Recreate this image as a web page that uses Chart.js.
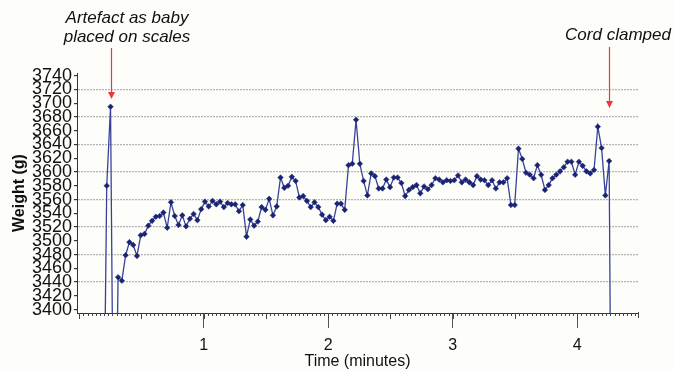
<!DOCTYPE html>
<html>
<head>
<meta charset="utf-8">
<script src="https://cdn.jsdelivr.net/npm/chart.js"></script>
<style>
  html, body { margin: 0; padding: 0; background: #fdfdfa; }
  #wrap { width: 674px; height: 371px; position: relative; }
</style>
</head>
<body>
<div id="wrap"><canvas id="myChart"></canvas></div>
<script>
// weight readings (g), one sample every ~1.8 s; the first, fourth and last fall off the bottom of the axis
const weights = [
  3100, 3580, 3695, 3050, 3447, 3442, 3479, 3498, 3494, 3478,
  3508, 3510, 3522, 3529, 3535, 3536, 3541, 3519, 3556, 3536,
  3523, 3537, 3521, 3532, 3539, 3530, 3546, 3557, 3550, 3558,
  3553, 3557, 3549, 3555, 3553, 3553, 3543, 3552, 3506, 3531,
  3522, 3528, 3549, 3545, 3561, 3537, 3550, 3592, 3577, 3580,
  3593, 3587, 3563, 3565, 3558, 3549, 3556, 3549, 3538, 3530,
  3535, 3529, 3554, 3554, 3545, 3610, 3612, 3676, 3612, 3587,
  3566, 3598, 3594, 3576, 3576, 3589, 3578, 3592, 3592, 3584,
  3565, 3574, 3578, 3581, 3569, 3579, 3575, 3581, 3591, 3589,
  3585, 3588, 3587, 3588, 3595, 3585, 3589, 3585, 3581, 3594,
  3589, 3588, 3581, 3588, 3576, 3585, 3585, 3591, 3552, 3552,
  3634, 3619, 3599, 3596, 3591, 3610, 3596, 3574, 3581, 3591,
  3596, 3601, 3607, 3615, 3615, 3596, 3615, 3609, 3601, 3598,
  3603, 3666, 3635, 3566, 3616, 2800
];
const startMin = 0.1906;   // time of first sample (minutes)
const stepMin = 0.03034;   // sampling interval (minutes)

const xTicks = [1, 2, 3, 4];
const yTicks = [3400, 3420, 3440, 3460, 3480, 3500, 3520, 3540, 3560, 3580,
                3600, 3620, 3640, 3660, 3680, 3700, 3720, 3740];
const minorStep = 1 / 30;

const notes = [
  { lines: ['Artefact as baby', 'placed on scales'], index: 2, textX: 127, textY: 18, tail: 48, tip: 99 },
  { lines: ['Cord clamped'], index: 134, textX: 618, textY: 35, tail: 47, tip: 108 }
];

const points = weights.map((w, i) => ({ x: startMin + i * stepMin, y: w }));

// small ticks on the time axis + the red arrows and notes
const extras = {
  id: 'extras',
  afterDraw(chart) {
    const ctx = chart.ctx;
    const xs = chart.scales.x;
    const bottom = chart.chartArea.bottom;
    ctx.save();
    ctx.strokeStyle = '#444';
    ctx.lineWidth = 1;
    ctx.beginPath();
    for (let k = 0; k * minorStep <= xs.max; k++) {
      const t = k * minorStep;
      const px = Math.round(xs.getPixelForValue(t)) + 0.5;
      const half = Math.abs((t * 2) - Math.round(t * 2)) < 1e-6;
      const len = half ? 6 : 3;
      ctx.moveTo(px, bottom);
      ctx.lineTo(px, bottom + len);
    }
    ctx.moveTo(chart.chartArea.right + 0.5, bottom - 1);
    ctx.lineTo(chart.chartArea.right + 0.5, bottom + 5);
    ctx.stroke();

    ctx.font = 'italic 17px "Liberation Sans", Arial, sans-serif';
    ctx.fillStyle = '#111';
    ctx.textAlign = 'center';
    ctx.textBaseline = 'middle';
    notes.forEach(n => {
      n.lines.forEach((s, i) => ctx.fillText(s, n.textX, n.textY + i * 19));
      const ax = Math.round(xs.getPixelForValue(points[n.index].x)) + 0.5;
      ctx.strokeStyle = '#f0383a';
      ctx.fillStyle = '#f0383a';
      ctx.lineWidth = 1.2;
      ctx.beginPath();
      ctx.moveTo(ax, n.tail);
      ctx.lineTo(ax, n.tip - 5);
      ctx.stroke();
      ctx.beginPath();
      ctx.moveTo(ax - 3.5, n.tip - 7);
      ctx.lineTo(ax + 3.5, n.tip - 7);
      ctx.lineTo(ax, n.tip);
      ctx.closePath();
      ctx.fill();
      ctx.fillStyle = '#111';
    });
    ctx.restore();
  }
};

new Chart(document.getElementById('myChart'), {
  type: 'line',
  data: {
    datasets: [{
      data: points,
      borderColor: '#38429a',
      borderWidth: 1.3,
      pointStyle: 'rectRot',
      pointRadius: 2.8,
      pointBackgroundColor: '#1b2472',
      pointBorderColor: '#1b2472',
      pointBorderWidth: 0.5,
      tension: 0
    }]
  },
  options: {
    responsive: true,
    maintainAspectRatio: false,
    animation: false,
    layout: { padding: { top: 73, right: 36, bottom: 0, left: 0 } },
    plugins: { legend: { display: false }, tooltip: { enabled: false } },
    scales: {
      x: {
        type: 'linear',
        min: -0.018,
        max: 4.488,
        afterBuildTicks: s => { s.ticks = xTicks.map(v => ({ value: v })); },
        afterFit: s => { s.height = 58; },
        grid: { drawOnChartArea: false, drawTicks: true, tickLength: 15, tickColor: '#555', tickWidth: 1 },
        border: { display: true, color: '#333', width: 1 },
        ticks: {
          color: '#111',
          padding: 8,
          maxRotation: 0,
          font: { family: '"Liberation Sans", Arial, sans-serif', size: 16 },
          callback: v => String(v)
        },
        title: {
          display: true,
          text: 'Time (minutes)',
          color: '#111',
          padding: { top: 0, bottom: 0 },
          font: { family: '"Liberation Sans", Arial, sans-serif', size: 16 }
        }
      },
      y: {
        min: 3395,
        max: 3744,
        afterBuildTicks: s => { s.ticks = yTicks.map(v => ({ value: v })); },
        afterFit: s => { s.width = 77; },
        grid: {
          drawTicks: true,
          tickLength: 3,
          tickColor: '#333',
          lineWidth: 1.2,
          color: c => (c.tick && c.tick.value % 40 === 0 && c.tick.value !== 3400) ? '#b4b4b4' : 'rgba(0,0,0,0)'
        },
        border: { display: true, color: '#333', width: 1, dash: [2, 1] },
        ticks: {
          autoSkip: false,
          color: '#111',
          padding: 2,
          font: { family: '"Liberation Sans", Arial, sans-serif', size: 18, lineHeight: 0.8 },
          callback: v => String(v)
        },
        title: {
          display: true,
          text: 'Weight (g)',
          color: '#111',
          padding: { top: 10, bottom: 0 },
          font: { family: '"Liberation Sans", Arial, sans-serif', size: 16, weight: 'bold' }
        }
      }
    }
  },
  plugins: [extras]
});
</script>
</body>
</html>
